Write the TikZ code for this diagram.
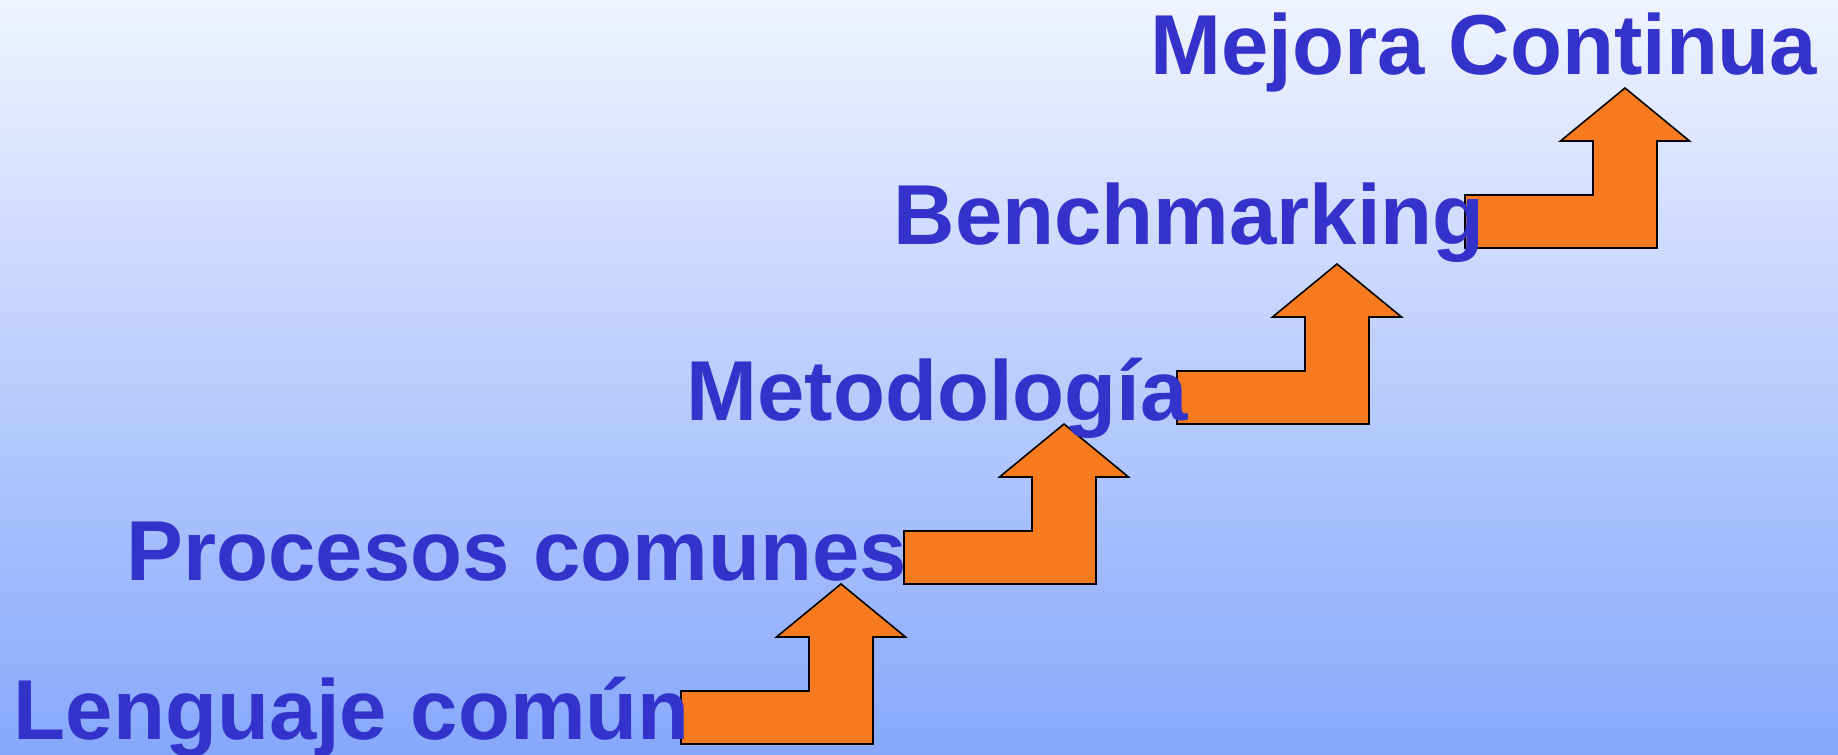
\documentclass[tikz,border=0pt]{standalone}
\usepackage{fontspec}
\setmainfont{Liberation Sans}
\usetikzlibrary{positioning}

\definecolor{stepblue}{RGB}{51,51,204}
\definecolor{steporange}{RGB}{247,123,30}
\definecolor{bgtop}{RGB}{240,244,255}
\definecolor{bgbottom}{RGB}{134,167,252}

\tikzset{
  stairarrow/.style={fill=steporange, draw=black, line width=0.45pt, line join=miter},
  stairtext/.style={anchor=base west, inner sep=0pt, text=stepblue,
    font=\fontsize{24.2pt}{29pt}\selectfont\bfseries}
}

\begin{document}
\begin{tikzpicture}[x=0.01cm, y=-0.01cm]
        % Background
        \useasboundingbox (0,0) rectangle (1838,755);
        \shade[top color=bgtop, bottom color=bgbottom] (0,0) rectangle (1838,755);

        % Step arrows
        \foreach \x/\y in {681/744, 904/584, 1177/424, 1465/248}
          \draw[stairarrow] (\x,\y) -- ++(192,0) -- ++(0,-107) -- ++(32.5,0)
            -- ++(-64.5,-53) -- ++(-64.5,53) -- ++(32.5,0) -- ++(0,54)
            -- ++(-128,0) -- cycle;

        % Labels
        \node[stairtext] (lenguaje) at (13,740) {Lenguaje común};
        \node[stairtext] (procesos) at (126,581) {Procesos comunes};
        \node[stairtext] (metodologia) at (686,421) {Metodología};
        \node[stairtext] (benchmarking) at (893,245) {Benchmarking};
        \node[stairtext] (mejora) at (1150,75) {Mejora Continua};
\end{tikzpicture}
\end{document}
